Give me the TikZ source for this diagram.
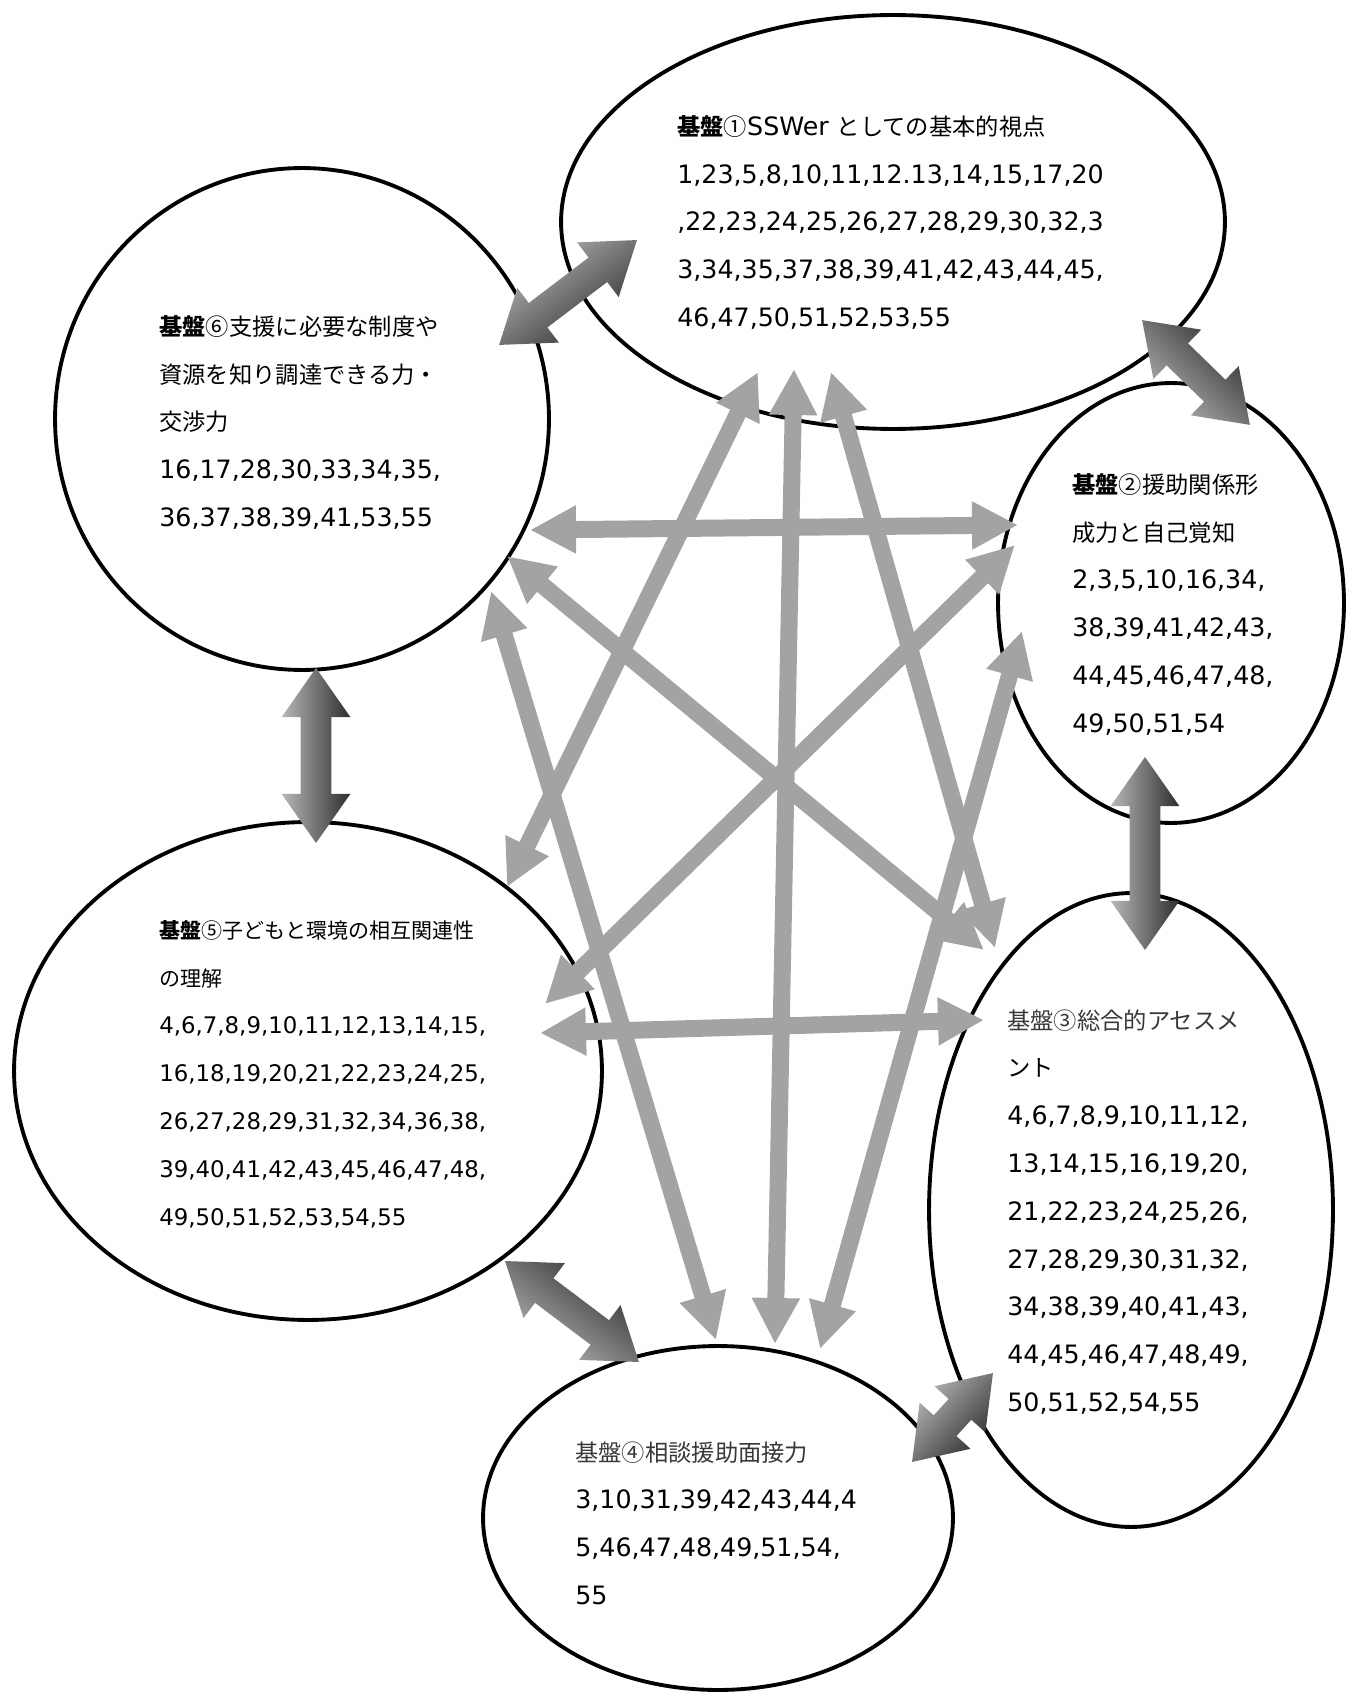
\documentclass[tikz,border=0pt]{standalone}
\usepackage{fontspec}
\setmainfont{DejaVu Sans}
\newfontfamily\jp{Noto Sans CJK JP}[Scale=0.92]
\usepackage{tikz}
\usetikzlibrary{shapes.geometric, shapes.arrows, arrows.meta, calc}

\definecolor{arrowgrey}{gray}{0.64}
\definecolor{blocklight}{gray}{0.72}
\definecolor{blockdark}{gray}{0.18}
\definecolor{headgrey}{gray}{0.22}

% shaded double arrow between two coordinates
\newcommand{\blockarrow}[3]{%
  \path let \p1=($(#2)-(#1)$), \n1={atan2(\y1,\x1)}, \n2={veclen(\x1,\y1)} in
    ($(#1)!0.5!(#2)$) node[blockarr, rotate=\n1, minimum height=\n2, shading angle=\n1] (#3) {};
}

\begin{document}
\begin{tikzpicture}[x=0.02cm, y=-0.02cm,
  kiban/.style={draw, ellipse, line width=2.2pt, inner sep=0pt},
  txt/.style={anchor=north west, align=left, inner sep=0pt, font=\fontsize{14.4}{27.2}\selectfont},
  thin arrow/.style={draw=arrowgrey, line width=0.34cm, >={Triangle[width=0.9cm,length=0.92cm]}, <->},
  blockarr/.style={double arrow, inner xsep=0pt, inner ysep=0.3cm, double arrow head extend=0.38cm,
    double arrow tip angle=70, top color=blocklight, bottom color=blockdark}]
\fill[white] (0,0) rectangle (1348,1692);
\useasboundingbox (0,0) rectangle (1348,1692);

\node[kiban, minimum width=13.28cm, minimum height=8.28cm] (k1) at (893,222) {};
\node[kiban, minimum width=6.92cm, minimum height=8.8cm] (k2) at (1171,603) {};
\node[kiban, minimum width=8.08cm, minimum height=12.68cm] (k3) at (1131,1210) {};
\node[kiban, minimum width=9.4cm, minimum height=6.88cm] (k4) at (718,1518) {};
\node[kiban, minimum width=11.76cm, minimum height=9.96cm] (k5) at (308,1071) {};
\node[kiban, minimum width=9.88cm, minimum height=10.04cm] (k6) at (302,419) {};

% ends of the thin arrows
\coordinate (h62) at (530,530);   \coordinate (h26) at (1018,525);
\coordinate (h63) at (507,556);   \coordinate (h36) at (984,950);
\coordinate (h64) at (491,591);   \coordinate (h46) at (716,1340);
\coordinate (h15) at (758,372);   \coordinate (h51) at (507,887);
\coordinate (h14) at (794,369);   \coordinate (h41) at (775,1344);
\coordinate (h13) at (831,372);   \coordinate (h31) at (995,948);
\coordinate (h25) at (1015,545);  \coordinate (h52) at (545,1004);
\coordinate (h24) at (1022,631);  \coordinate (h42) at (820,1349);
\coordinate (h53) at (540,1033);  \coordinate (h35) at (984,1020);

\foreach \a/\b in {6/2, 6/3, 6/4, 1/5, 1/4, 1/3, 2/5, 2/4, 5/3}
    \draw[thin arrow] (h\a\b) -- (h\b\a);

% ends of the shaded arrows
\coordinate (b61) at (499,345);   \coordinate (b16) at (637,240);
\coordinate (b12) at (1142,320);  \coordinate (b21) at (1250,425);
\coordinate (b23) at (1145,757);  \coordinate (b32) at (1145,950);
\coordinate (b34) at (993,1373);  \coordinate (b43) at (912,1462);
\coordinate (b45) at (639,1362);  \coordinate (b54) at (505,1261);
\coordinate (b56) at (316,843);   \coordinate (b65) at (316,668);

\blockarrow{b61}{b16}{ba61}
\blockarrow{b21}{b12}{ba12}
\blockarrow{b32}{b23}{ba23}
\blockarrow{b43}{b34}{ba34}
\blockarrow{b45}{b54}{ba45}
\blockarrow{b56}{b65}{ba56}

\node[txt] (t1) at (677,115) {{\jp\bfseries 基盤}{\jp ①}SSWer {\jp としての基本的視点}\\
  1,23,5,8,10,11,12.13,14,15,17,20\\,22,23,24,25,26,27,28,29,30,32,3\\
  3,34,35,37,38,39,41,42,43,44,45,\\46,47,50,51,52,53,55};
\node[txt] (t2) at (1072,473) {{\jp\bfseries 基盤}{\jp ②援助関係形}\\{\jp 成力と自己覚知}\\
  2,3,5,10,16,34,\\38,39,41,42,43,\\44,45,46,47,48,\\49,50,51,54};
\node[txt] (t3) at (1007,1009) {{\jp\color{headgrey}基盤③総合的アセスメ}\\{\jp ント}\\
  4,6,7,8,9,10,11,12,\\13,14,15,16,19,20,\\21,22,23,24,25,26,\\27,28,29,30,31,32,\\
  34,38,39,40,41,43,\\44,45,46,47,48,49,\\50,51,52,54,55};
\node[txt] (t4) at (575,1441) {{\jp\color{headgrey}基盤④相談援助面接力}\\
  3,10,31,39,42,43,44,4\\5,46,47,48,49,51,54,\\55};
\node[txt, font=\fontsize{13}{27.2}\selectfont] (t5) at (159,920) {{\jp\bfseries 基盤}{\jp ⑤子どもと環境の相互関連性}\\{\jp の理解}\\
  4,6,7,8,9,10,11,12,13,14,15,\\16,18,19,20,21,22,23,24,25,\\26,27,28,29,31,32,34,36,38,\\
  39,40,41,42,43,45,46,47,48,\\49,50,51,52,53,54,55};
\node[txt] (t6) at (159,315) {{\jp\bfseries 基盤}{\jp ⑥支援に必要な制度や}\\{\jp 資源を知り調達できる力・}\\
  {\jp 交渉力}\\16,17,28,30,33,34,35,\\36,37,38,39,41,53,55};
\end{tikzpicture}
\end{document}
